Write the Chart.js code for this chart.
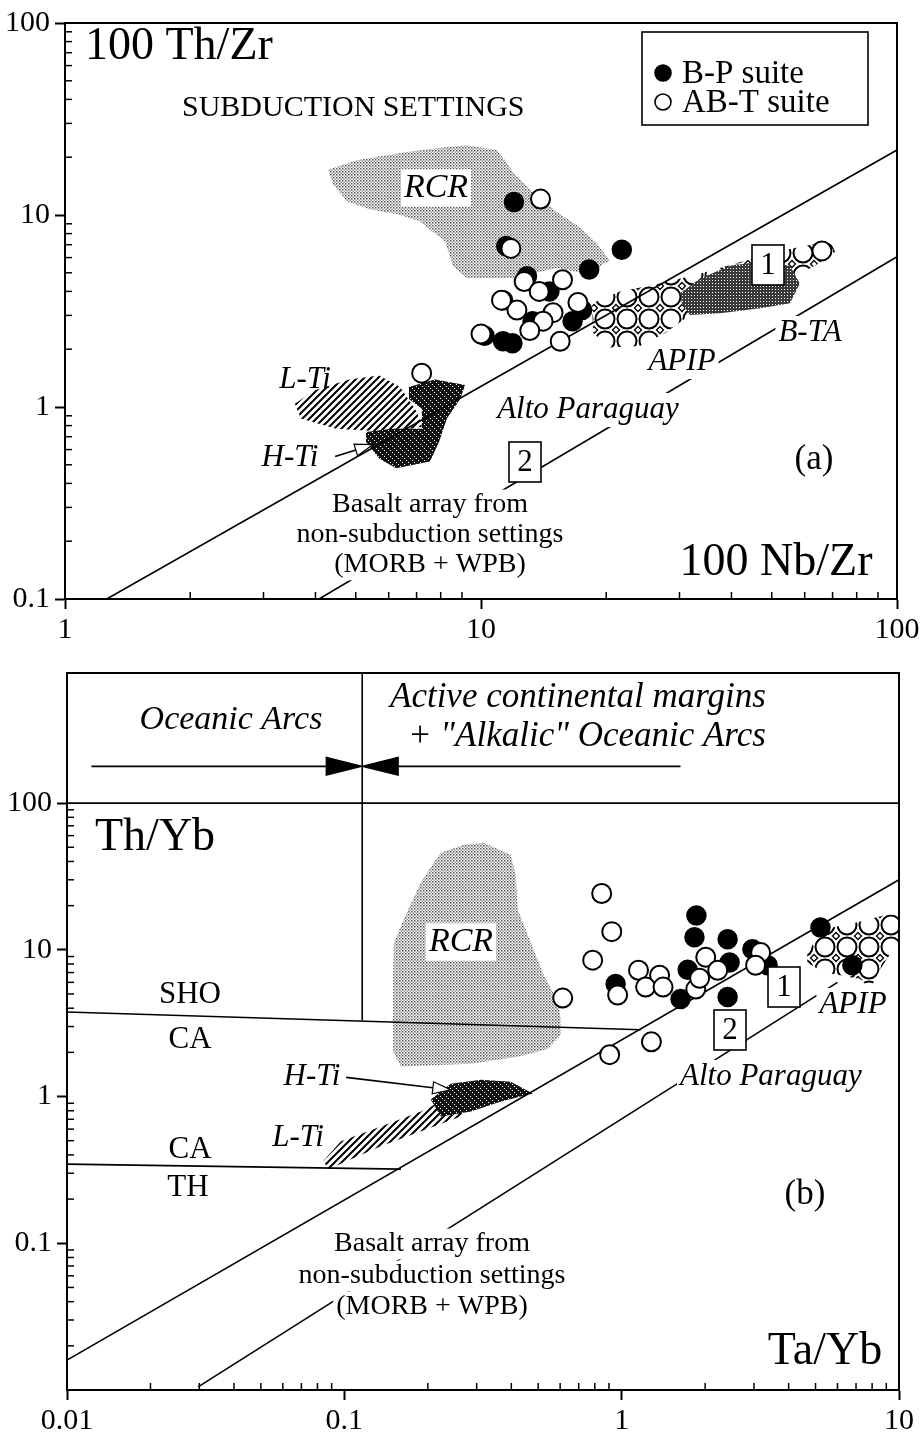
<!DOCTYPE html>
<html><head><meta charset="utf-8">
<script src="https://cdn.jsdelivr.net/npm/chart.js@4.4.0/dist/chart.umd.min.js"></script>
<style>
html,body{margin:0;padding:0;background:#fff;width:923px;height:1445px;overflow:hidden}
#wa{position:absolute;left:0;top:0;width:923px;height:665px}
#wb{position:absolute;left:0;top:650px;width:923px;height:795px}
</style></head><body>
<div id="wa"><canvas id="ca"></canvas></div>
<div id="wb"><canvas id="cb"></canvas></div>
<script>
// ---------- DATA ----------
const topXTicks = [1, 10, 100];
const topYTicks = [0.1, 1, 10, 100];
const botXTicks = [0.01, 0.1, 1, 10];
const botYTicks = [0.1, 1, 10, 100];

// (a) 100 Nb/Zr vs 100 Th/Zr
const topBP = [{x:12.0,y:11.7},{x:11.5,y:6.9},{x:21.8,y:6.6},{x:18.2,y:5.2},{x:12.9,y:4.8},{x:14.6,y:4.0},{x:17.5,y:3.2},{x:16.6,y:2.8},{x:13.3,y:2.8},{x:11.3,y:3.6},{x:11.9,y:2.15},{x:11.3,y:2.2},{x:10.2,y:2.35}];
const topABT = [{x:13.9,y:12.1},{x:11.8,y:6.7},{x:12.7,y:4.5},{x:15.7,y:4.6},{x:13.8,y:4.0},{x:17.1,y:3.5},{x:12.2,y:3.2},{x:11.2,y:3.6},{x:14.9,y:3.1},{x:14.1,y:2.8},{x:13.1,y:2.5},{x:15.5,y:2.2},{x:10.0,y:2.4},{x:7.2,y:1.5},{x:66,y:6.5}];
const topRCR = [[4.29,17.2],[5.03,19.3],[6.64,21.3],[8.28,22.6],[9.25,23.1],[10.9,21.8],[11.5,18.9],[11.9,16.8],[13.3,13.2],[15.2,10.4],[17.3,8.6],[19.0,7.1],[20.4,5.8],[18.0,4.95],[15.2,5.3],[11.9,4.7],[9.25,4.7],[8.57,5.4],[8.2,7.3],[7.1,9.3],[6.3,10.1],[5.4,10.7],[4.76,11.8],[4.41,14.4]];
const topLTi = [[3.57,1.04],[3.97,1.22],[4.82,1.39],[5.69,1.46],[6.39,1.27],[7.02,0.94],[7.21,0.79],[6.11,0.74],[4.48,0.77],[3.69,0.87]];
const topHTi = [[6.71,1.27],[7.75,1.39],[9.16,1.30],[8.91,1.10],[8.28,0.87],[7.93,0.66],[7.54,0.52],[6.25,0.48],[5.69,0.54],[5.29,0.66],[5.29,0.74],[6.11,0.77],[7.21,0.77],[7.21,0.98],[6.71,1.10]];
const topAPIP = [[18.5,3.47],[21.6,4.0],[26.9,4.40],[33.6,4.95],[43.1,5.78],[55.3,6.66],[63.5,7.06],[69.0,7.32],[71.0,6.43],[63.5,5.44],[55.3,4.67],[46.9,3.91],[37.6,3.47],[31.8,3.01],[27.7,2.43],[24.1,2.08],[20.4,2.04],[18.6,2.43]];
const topBTA = [[30.1,3.91],[33.6,4.67],[39.7,5.44],[46.9,5.71],[55.3,5.44],[58.4,4.40],[55.3,3.47],[46.9,3.27],[37.6,3.08],[31.8,3.01],[30.4,3.47]];
const topUpperLine = [[1.26,0.1],[100,21.8]];
const topLowerLine = [[4.08,0.1],[100,6.06]];
const topHTiArrow = [[4.46,0.553],[5.50,0.637]];

// (b) Ta/Yb vs Th/Yb
const botBP = [{x:1.86,y:17.1},{x:1.83,y:12.2},{x:2.41,y:11.8},{x:1.73,y:7.3},{x:2.45,y:8.2},{x:2.96,y:10.1},{x:3.36,y:7.85},{x:5.21,y:14.2},{x:6.79,y:7.85},{x:0.951,y:5.84},{x:1.63,y:4.62},{x:2.41,y:4.76}];
const botABT = [{x:0.847,y:24.2},{x:0.921,y:13.3},{x:0.786,y:8.5},{x:0.613,y:4.69},{x:1.28,y:2.36},{x:0.905,y:1.93},{x:2.01,y:8.9},{x:3.17,y:9.6},{x:3.04,y:7.85},{x:1.15,y:7.26},{x:1.37,y:6.72},{x:1.22,y:5.57},{x:1.41,y:5.57},{x:0.967,y:4.92},{x:1.85,y:5.4},{x:1.91,y:6.4},{x:2.22,y:7.26}];
const botRCR = [[0.223,45.8],[0.270,51.9],[0.318,53.6],[0.398,44.4],[0.415,32.0],[0.422,18.8],[0.470,11.2],[0.524,6.7],[0.589,4.41],[0.603,3.38],[0.603,2.63],[0.541,2.11],[0.422,1.87],[0.286,1.67],[0.160,1.60],[0.150,2.02],[0.150,6.7],[0.151,11.2],[0.170,18.8],[0.189,28.7],[0.210,39.2]];
const botLTi = [[0.0838,0.362],[0.0973,0.495],[0.1355,0.626],[0.189,0.791],[0.242,1.0],[0.286,1.11],[0.311,0.925],[0.263,0.732],[0.189,0.579],[0.1355,0.458],[0.1015,0.362],[0.0881,0.320]];
const botHTi = [[0.205,0.954],[0.242,1.22],[0.311,1.30],[0.398,1.26],[0.478,1.05],[0.367,0.925],[0.286,0.791],[0.223,0.732]];
const botAPIP = [[4.67,9.6],[5.34,13.8],[7.08,15.4],[9.08,17.4],[10.5,17.4],[10.5,12.5],[9.53,10.1],[8.57,7.4],[7.88,5.4],[7.26,6.3],[6.15,6.7],[5.34,7.0],[4.67,8.2]];
const botUpperLine = [[0.01,0.016],[10,30]];
const botLowerLine = [[0.0297,0.0105],[6.0,6.0]];
const botSHOLine = [[0.01,3.77],[1.17,2.85]];
const botTHLine = [[0.01,0.346],[0.16,0.32]];
const botArcDivider = [[0.116,770],[0.116,3.3]];
const botY100Line = [[0.01,100],[10,100]];
const botOceanicArrow = [[0.01225,178],[0.116,178]];
const botActiveArrow = [[1.63,178],[0.116,178]];
const botHTiArrow = [[0.1015,1.35],[0.242,1.11]];

// ---------- HELPERS ----------
const FONT = '"Liberation Serif","Times New Roman",serif';
const isMajor = (v, arr) => arr.some(t => Math.abs(Math.log10(v) - Math.log10(t)) < 1e-6);
function decadeTicks(e0, e1){ const o=[]; for(let e=e0;e<e1;e++){ for(let m=1;m<10;m++) o.push(+(m*Math.pow(10,e)).toPrecision(6)); } o.push(+Math.pow(10,e1).toPrecision(6)); return o; }
const toXY = a => a.map(([x,y]) => ({x,y}));

function makePatterns(ctx){
  function mk(w,h,draw){ const c=document.createElement('canvas'); c.width=w; c.height=h; const g=c.getContext('2d'); draw(g,w,h); return ctx.createPattern(c,'repeat'); }
  return {
    stipple: mk(3,3,(g)=>{ g.fillStyle='#555'; g.fillRect(0,0,1.5,1.5); g.fillStyle='#999'; g.fillRect(1.5,1.5,1.5,1.5); }),
    darkStipple: mk(3,3,(g)=>{ g.fillStyle='#3a3a3a'; g.fillRect(0,0,3,3); g.fillStyle='#fff'; g.fillRect(1,1,1,1); }),
    hatch: mk(7,7,(g)=>{ g.strokeStyle='#000'; g.lineWidth=2; g.beginPath(); g.moveTo(-1,8); g.lineTo(8,-1); g.moveTo(-1,1); g.lineTo(1,-1); g.moveTo(6,8); g.lineTo(8,6); g.stroke(); }),
    darkHatch: mk(6,6,(g)=>{ g.fillStyle='#111'; g.fillRect(0,0,6,6); g.fillStyle='#fff'; g.fillRect(0,0,1,1); g.fillRect(2,2,1,1); g.fillRect(4,4,1,1); }),
    honey: mk(22,22,(g)=>{ g.strokeStyle='#000'; g.lineWidth=2; g.beginPath(); g.arc(11,11,9.5,0,Math.PI*2); g.stroke();
      g.lineWidth=1.3; [[0,0],[22,0],[0,22],[22,22]].forEach(([cx,cy])=>{ g.beginPath(); g.moveTo(cx,cy-3.5); g.lineTo(cx+3.5,cy); g.lineTo(cx,cy+3.5); g.lineTo(cx-3.5,cy); g.closePath(); g.stroke(); }); })
  };
}

function drawArrow(ctx, x0,y0,x1,y1, L, W, fill){
  const a=Math.atan2(y1-y0,x1-x0); const bx=x1-L*Math.cos(a), by=y1-L*Math.sin(a);
  ctx.strokeStyle='#000'; ctx.lineWidth=1.6;
  ctx.beginPath(); ctx.moveTo(x0,y0); ctx.lineTo(bx,by); ctx.stroke();
  ctx.beginPath(); ctx.moveTo(x1,y1); ctx.lineTo(bx+W*Math.sin(a), by-W*Math.cos(a)); ctx.lineTo(bx-W*Math.sin(a), by+W*Math.cos(a)); ctx.closePath();
  ctx.fillStyle=fill; ctx.fill(); ctx.lineWidth=1.2; ctx.stroke();
}

function makeDecor(cfg){
  let pats=null;
  return {
    id:'decor',
    beforeDatasetsDraw(chart){
      const {ctx, chartArea:a, scales:{x,y}} = chart;
      if(!pats) pats = makePatterns(ctx);
      ctx.save(); ctx.beginPath(); ctx.rect(a.left,a.top,a.right-a.left,a.bottom-a.top); ctx.clip();
      for(const p of cfg.polys){
        ctx.beginPath();
        p.pts.forEach(([vx,vy],i)=>{ const px=x.getPixelForValue(vx), py=y.getPixelForValue(vy); i?ctx.lineTo(px,py):ctx.moveTo(px,py); });
        ctx.closePath(); ctx.fillStyle=pats[p.pattern]; ctx.fill();
      }
      ctx.restore();
    },
    afterDatasetsDraw(chart){
      const {ctx, chartArea:a, scales:{x,y}} = chart;
      ctx.save();
      for(const ar of cfg.arrows){
        const [[ax0,ay0],[ax1,ay1]] = ar.pts;
        drawArrow(ctx, x.getPixelForValue(ax0), y.getPixelForValue(ay0), x.getPixelForValue(ax1), y.getPixelForValue(ay1), ar.L, ar.W, ar.fill);
      }
      ctx.textBaseline='middle';
      for(const t of cfg.texts){
        ctx.font = (t.italic?'italic ':'') + t.size + 'px ' + FONT;
        ctx.textAlign = t.align || 'center';
        const ty = t.y - cfg.offset;
        if(t.bg){
          const w = ctx.measureText(t.t).width; let lx = t.x - (t.align==='left'?0:w/2);
          ctx.fillStyle='#fff'; ctx.fillRect(lx-3, ty - t.size*0.55, w+6, t.size*1.1);
        }
        ctx.fillStyle='#000'; ctx.fillText(t.t, t.x, ty);
      }
      for(const b of cfg.boxes){
        const by = b.y - cfg.offset;
        ctx.fillStyle='#fff'; ctx.fillRect(b.x-16, by-20, 32, 40);
        ctx.strokeStyle='#000'; ctx.lineWidth=1.6; ctx.strokeRect(b.x-16, by-20, 32, 40);
        ctx.fillStyle='#000'; ctx.font='31px '+FONT; ctx.textAlign='center'; ctx.fillText(b.t, b.x, by+1);
      }
      if(cfg.legend){
        const L=cfg.legend; ctx.fillStyle='#fff'; ctx.fillRect(L.x0,L.y0,L.x1-L.x0,L.y1-L.y0);
        ctx.strokeStyle='#000'; ctx.lineWidth=1.6; ctx.strokeRect(L.x0,L.y0,L.x1-L.x0,L.y1-L.y0);
        L.items.forEach(it=>{
          const ds = chart.data.datasets[it.ds];
          ctx.beginPath(); ctx.arc(L.mx, it.y, 8, 0, Math.PI*2); ctx.fillStyle=ds.backgroundColor; ctx.fill(); ctx.lineWidth=1.6; ctx.strokeStyle='#000'; ctx.stroke();
          ctx.fillStyle='#000'; ctx.font='33px '+FONT; ctx.textAlign='left'; ctx.fillText(ds.label, L.tx, it.y+1);
        });
      }
      ctx.strokeStyle='#000'; ctx.lineWidth=1.5;
      x.ticks.forEach(tk=>{ if(isMajor(tk.value,cfg.xMajor) || tk.value<=x.min || tk.value>=x.max) return; const px=x.getPixelForValue(tk.value); ctx.beginPath(); ctx.moveTo(px,a.bottom); ctx.lineTo(px,a.bottom-7); ctx.stroke(); });
      y.ticks.forEach(tk=>{ if(isMajor(tk.value,cfg.yMajor) || tk.value<=y.min || tk.value>=y.max) return; const py=y.getPixelForValue(tk.value); ctx.beginPath(); ctx.moveTo(a.left,py); ctx.lineTo(a.left+7,py); ctx.stroke(); });
      ctx.lineWidth=2; ctx.strokeRect(a.left,a.top,a.right-a.left,a.bottom-a.top);
      ctx.restore();
    }
  };
}

function logAxis(pos, min, max, ticksArr, majors, size, pad){
  return {
    type:'logarithmic', position:pos, min, max,
    afterBuildTicks: s => { s.ticks = ticksArr.map(v=>({value:v})); },
    afterFit: s => { if(pos==='left') s.width=size; else s.height=size; },
    ticks:{ autoSkip:false, maxRotation:0, minRotation:0, color:'#000', padding:pad, font:{family:FONT,size:30},
      callback:(v)=> isMajor(v,majors) ? String(v) : '' },
    grid:{ drawOnChartArea:false, drawTicks:true, tickLength:10, tickWidth:2,
      tickColor: c => (c.tick && isMajor(c.tick.value,majors)) ? '#000' : 'rgba(0,0,0,0)' },
    border:{ display:true, color:'#000', width:2 }
  };
}

const lineDs = (pts, w) => ({ type:'line', data: toXY(pts), borderColor:'#000', borderWidth:w||1.6, pointRadius:0, showLine:true, fill:false, order:5 });
const bpDs = (d) => ({ label:'B-P suite', data:d, pointRadius:9.5, pointStyle:'circle', backgroundColor:'#000', borderColor:'#000', borderWidth:1.5, order:2 });
const abtDs = (d) => ({ label:'AB-T suite', data:d, pointRadius:9.5, pointStyle:'circle', backgroundColor:'#fff', borderColor:'#000', borderWidth:2, order:1 });

const common = { responsive:true, maintainAspectRatio:false, animation:false, devicePixelRatio:1, events:[],
  plugins:{ legend:{display:false}, tooltip:{enabled:false} } };

// ---------- TOP CHART ----------
new Chart(document.getElementById('ca'), {
  type:'scatter',
  data:{ datasets:[ bpDs(topBP), abtDs(topABT), lineDs(topUpperLine), lineDs(topLowerLine) ] },
  options:{ ...common, layout:{padding:{top:16,right:26,left:0,bottom:0}},
    scales:{ x: logAxis('bottom',1,100,decadeTicks(0,2),topXTicks,66,3), y: logAxis('left',0.1,100,decadeTicks(-1,2),topYTicks,65,5) } },
  plugins:[ makeDecor({ offset:0, xMajor:topXTicks, yMajor:topYTicks,
    polys:[ {pts:topRCR,pattern:'stipple'}, {pts:topLTi,pattern:'hatch'}, {pts:topHTi,pattern:'darkHatch'}, {pts:topAPIP,pattern:'honey'}, {pts:topBTA,pattern:'darkStipple'} ],
    arrows:[ {pts:topHTiArrow, L:18, W:6, fill:'#fff'} ],
    texts:[
      {t:'100 Th/Zr', x:85, y:47, size:46, align:'left'},
      {t:'SUBDUCTION SETTINGS', x:182, y:108, size:30, align:'left'},
      {t:'RCR', x:436, y:188, size:34, italic:true, bg:true},
      {t:'L-Ti', x:305, y:380, size:31, italic:true},
      {t:'H-Ti', x:290, y:458, size:31, italic:true},
      {t:'Alto Paraguay', x:588, y:410, size:31, italic:true, bg:true},
      {t:'APIP', x:682, y:362, size:31, italic:true, bg:true},
      {t:'B-TA', x:810, y:333, size:31, italic:true, bg:true},
      {t:'(a)', x:814, y:460, size:35},
      {t:'Basalt array from', x:430, y:505, size:28, bg:true},
      {t:'non-subduction settings', x:430, y:535, size:28, bg:true},
      {t:'(MORB + WPB)', x:430, y:565, size:28, bg:true},
      {t:'100 Nb/Zr', x:776, y:563, size:46}
    ],
    boxes:[ {t:'1', x:768, y:265}, {t:'2', x:525, y:462} ],
    legend:{ x0:642, y0:32, x1:868, y1:125, mx:663, tx:682, items:[ {ds:0, y:73}, {ds:1, y:102} ] }
  }) ]
});

// ---------- BOTTOM CHART ----------
new Chart(document.getElementById('cb'), {
  type:'scatter',
  data:{ datasets:[ bpDs(botBP), abtDs(botABT), lineDs(botUpperLine), lineDs(botLowerLine), lineDs(botSHOLine), lineDs(botTHLine), lineDs(botArcDivider), lineDs(botY100Line) ] },
  options:{ ...common, layout:{padding:{top:19,right:24,left:0,bottom:0}},
    scales:{ x: logAxis('bottom',0.01,10,decadeTicks(-2,1),botXTicks,55,3), y: logAxis('left',0.01,770,decadeTicks(-2,2),botYTicks,67,5) } },
  plugins:[ makeDecor({ offset:650, xMajor:botXTicks, yMajor:botYTicks,
    polys:[ {pts:botRCR,pattern:'stipple'}, {pts:botLTi,pattern:'hatch'}, {pts:botHTi,pattern:'darkHatch'}, {pts:botAPIP,pattern:'honey'} ],
    arrows:[ {pts:botOceanicArrow, L:36, W:9, fill:'#000'}, {pts:botActiveArrow, L:36, W:9, fill:'#000'}, {pts:botHTiArrow, L:18, W:6, fill:'#fff'} ],
    texts:[
      {t:'Oceanic Arcs', x:231, y:720, size:34, italic:true},
      {t:'Active continental margins', x:390, y:698, size:35, italic:true, align:'left'},
      {t:'+ "Alkalic" Oceanic Arcs', x:408, y:737, size:35, italic:true, align:'left'},
      {t:'Th/Yb', x:95, y:838, size:46, align:'left'},
      {t:'SHO', x:190, y:995, size:31},
      {t:'CA', x:190, y:1040, size:31},
      {t:'CA', x:190, y:1150, size:31},
      {t:'TH', x:188, y:1188, size:31},
      {t:'RCR', x:461, y:942, size:34, italic:true, bg:true},
      {t:'H-Ti', x:312, y:1077, size:31, italic:true},
      {t:'L-Ti', x:298, y:1138, size:31, italic:true},
      {t:'APIP', x:853, y:1005, size:31, italic:true, bg:true},
      {t:'Alto Paraguay', x:680, y:1077, size:31, italic:true, bg:true, align:'left'},
      {t:'(b)', x:805, y:1195, size:35},
      {t:'Basalt array from', x:432, y:1244, size:28, bg:true},
      {t:'non-subduction settings', x:432, y:1276, size:28, bg:true},
      {t:'(MORB + WPB)', x:432, y:1307, size:28, bg:true},
      {t:'Ta/Yb', x:825, y:1352, size:46}
    ],
    boxes:[ {t:'1', x:784, y:987}, {t:'2', x:730, y:1030} ]
  }) ]
});
</script>
</body></html>
